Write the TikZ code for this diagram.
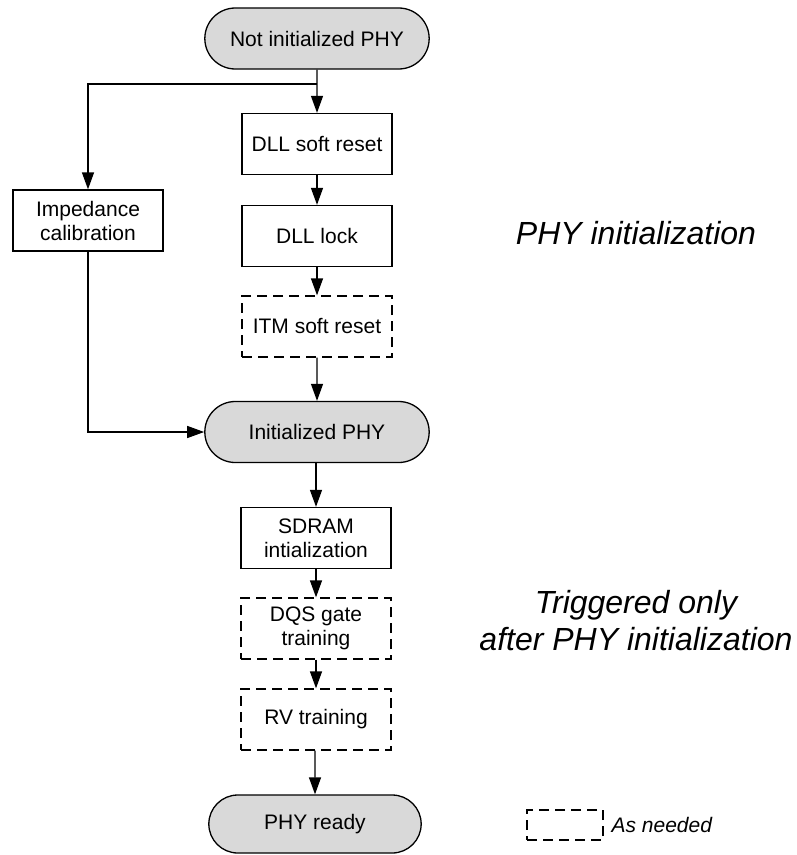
\documentclass[tikz,border=0pt]{standalone}
\usepackage{fontspec}
\setmainfont{Liberation Sans}
\usetikzlibrary{arrows.meta,positioning,shapes.misc}
\definecolor{termgray}{RGB}{217,217,217}
\tikzset{
  boxfont/.style={font=\fontsize{21bp}{24bp}\selectfont},
  terminal/.style={rounded rectangle, draw, fill=termgray, minimum width=231bp, minimum height=61bp, boxfont},
  stepbox/.style={rectangle, draw, minimum width=150bp, minimum height=61bp, align=center, inner sep=2bp, boxfont},
  optbox/.style={stepbox, dash pattern=on 10bp off 6bp},
  flow/.style={-{Triangle[length=17bp,width=12bp]}},
  note/.style={font=\fontsize{32bp}{37bp}\selectfont\itshape, align=center},
}
\begin{document}
\begin{tikzpicture}[x=1bp,y=-1bp,line width=1.3bp,line join=miter]
  \useasboundingbox (0,0) rectangle (797,855);
%%
  % Node: notinit
  \node[terminal] (notinit) at (317,38.5) {Not initialized PHY};
  % Node: dllreset
  \node[stepbox] (dllreset) at (317,144) {DLL soft reset};
  % Node: dlllock
  \node[stepbox] (dlllock) at (317,236) {DLL lock};
  % Node: itmreset
  \node[optbox] (itmreset) at (317,326.5) {ITM soft reset};
  % Node: impcal
  \node[stepbox] (impcal) at (88,220.5) {Impedance\\calibration};
  % Node: initphy
  \node[terminal] (initphy) at (317,432) {Initialized PHY};
  % Node: sdraminit
  \node[stepbox] (sdraminit) at (316,538) {SDRAM\\intialization};
  % Node: dqsgate
  \node[optbox] (dqsgate) at (316,628.5) {DQS gate\\training};
  % Node: rvtrain
  \node[optbox] (rvtrain) at (316,719.5) {RV training};
  % Node: ready
  \node[terminal, minimum width=219bp, minimum height=58bp] (ready) at (315,824) {PHY ready};
%
  % Node: labels
  \node[note] (phyinit) at (636,233) {PHY initialization};
  \node[note] (trigger) at (636,621) {Triggered only\\after PHY initialization};
  \node[draw, dash pattern=on 10bp off 6bp, minimum width=76bp, minimum height=30bp] (key) at (565,825) {};
  \node[right=4bp of key, font=\fontsize{21bp}{24bp}\selectfont\itshape] (keytext) {As needed};
%
  % Edge: notinit -> dllreset
  \coordinate (split) at (317,84);
  \draw[flow] (notinit) -- (dllreset);
  % Edge: notinit -> impcal
  \draw[flow] (split) -| (impcal.north);
  % Edge: dllreset -> dlllock -> itmreset -> initphy
  \draw[flow] (dllreset) -- (dlllock);
  \draw[flow] (dlllock) -- (itmreset);
  \draw[flow] (itmreset) -- (initphy);
  % Edge: impcal -> initphy
  \draw[flow] (impcal) |- (initphy);
  % Edge: initphy -> sdraminit -> dqsgate -> rvtrain -> ready
  \draw[flow] (initphy.south -| sdraminit) -- (sdraminit);
  \draw[flow] (sdraminit) -- (dqsgate);
  \draw[flow] (dqsgate) -- (rvtrain);
  \draw[flow] (rvtrain.south -| ready) -- (ready);
\end{tikzpicture}
\end{document}
